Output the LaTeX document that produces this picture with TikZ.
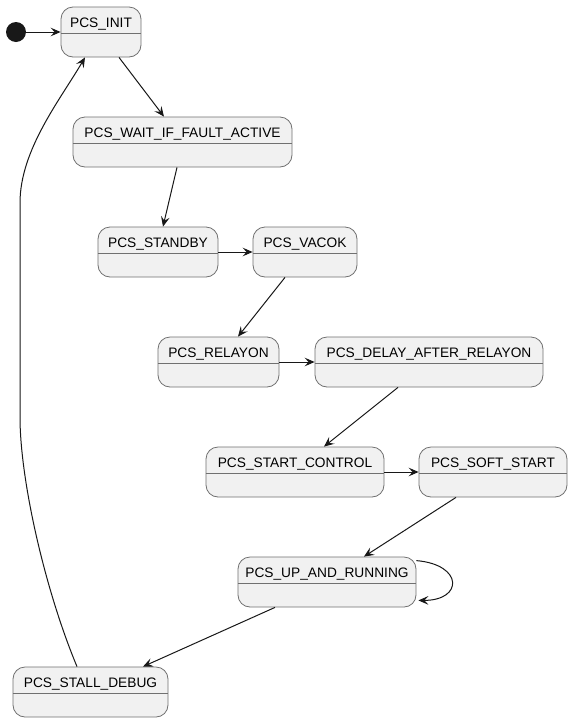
\documentclass[tikz,border=0pt]{standalone}
\usepackage{fontspec}
\setmainfont{Liberation Sans}
\usetikzlibrary{arrows.meta,fit,calc}
\definecolor{stfill}{HTML}{F1F1F1}
\definecolor{stborder}{HTML}{707070}
\definecolor{ink}{HTML}{181818}
\tikzset{
  st/.style={draw=stborder, line width=0.6pt, fill=stfill, rounded corners=9pt, inner sep=0pt},
  stlabel/.style={font=\fontsize{10.3pt}{12pt}\selectfont, text=black, inner sep=0pt, anchor=base},
  stdiv/.style={draw=stborder, line width=0.6pt},
  conn/.style={draw=ink, line width=0.75pt, -{Stealth[length=7.5pt, width=6.5pt, inset=3pt]}},
  initdot/.style={circle, fill=ink, draw=none, minimum size=15pt, inner sep=0pt}
}
\newcommand\stnode[6]{%
  \node[st, fit={(#2,#3) (#4,#5)}] (#1) {};
  \node[stlabel] (#1-t) at ([yshift=-15.75pt]#1.north) {#6};
  \draw[stdiv] ([yshift=-20.25pt]#1.north west) -- ([yshift=-20.25pt]#1.north east);
}
\begin{document}
\begin{tikzpicture}[x=0.75pt, y=-0.75pt]
\useasboundingbox[fill=white] (0,0) rectangle (573,722);

\node[initdot] (start) at (16,32) {};
\stnode{init}{61}{7}{141}{57}{PCS\_INIT}
\stnode{wait}{73}{117}{292}{167}{PCS\_WAIT\_IF\_FAULT\_ACTIVE}
\stnode{standby}{98}{227}{218}{277}{PCS\_STANDBY}
\stnode{vacok}{253}{227}{357}{277}{PCS\_VACOK}
\stnode{relayon}{158}{337}{279}{387}{PCS\_RELAYON}
\stnode{delay}{315}{337}{543}{387}{PCS\_DELAY\_AFTER\_RELAYON}
\stnode{startctl}{206}{447}{384}{497}{PCS\_START\_CONTROL}
\stnode{soft}{419}{447}{567}{497}{PCS\_SOFT\_START}
\stnode{up}{238}{557}{416}{607}{PCS\_UP\_AND\_RUNNING}
\stnode{stall}{13}{667}{168}{717}{PCS\_STALL\_DEBUG}

\coordinate (L1) at (20,417);
\coordinate (L2) at (20,203);

\draw[conn] (start) -- (init.west);
\draw[conn] ([xshift=13.5pt]init.south) -- ([xshift=-13.875pt]wait.north);
\draw[conn] ([xshift=-4.125pt]wait.south) -- ([xshift=3.75pt]standby.north);
\draw[conn] (standby.east) -- (vacok.west);
\draw[conn] ([xshift=-15pt]vacok.south) -- ([xshift=14.625pt]relayon.north);
\draw[conn] (relayon.east) -- (delay.west);
\draw[conn] ([xshift=-23.25pt]delay.south) -- ([xshift=21.75pt]startctl.north);
\draw[conn] (startctl.east) -- (soft.west);
\draw[conn] ([xshift=-27.75pt]soft.south) -- ([xshift=27.75pt]up.north);
\draw[conn] ([yshift=-3pt]up.north east) .. controls +(35.25pt,-3pt) and +(33.75pt,0pt) .. ([xshift=1.5pt,yshift=5.25pt]up.south east);
\draw[conn] ([xshift=-39pt]up.south) -- ([xshift=39.375pt]stall.north);
\draw[conn] ([xshift=-10.125pt]stall.north) .. controls (45,590) and (20,480) .. (L1) -- (L2) .. controls (20,150) and (60,100) .. ([xshift=-12pt]init.south);
\end{tikzpicture}
\end{document}
